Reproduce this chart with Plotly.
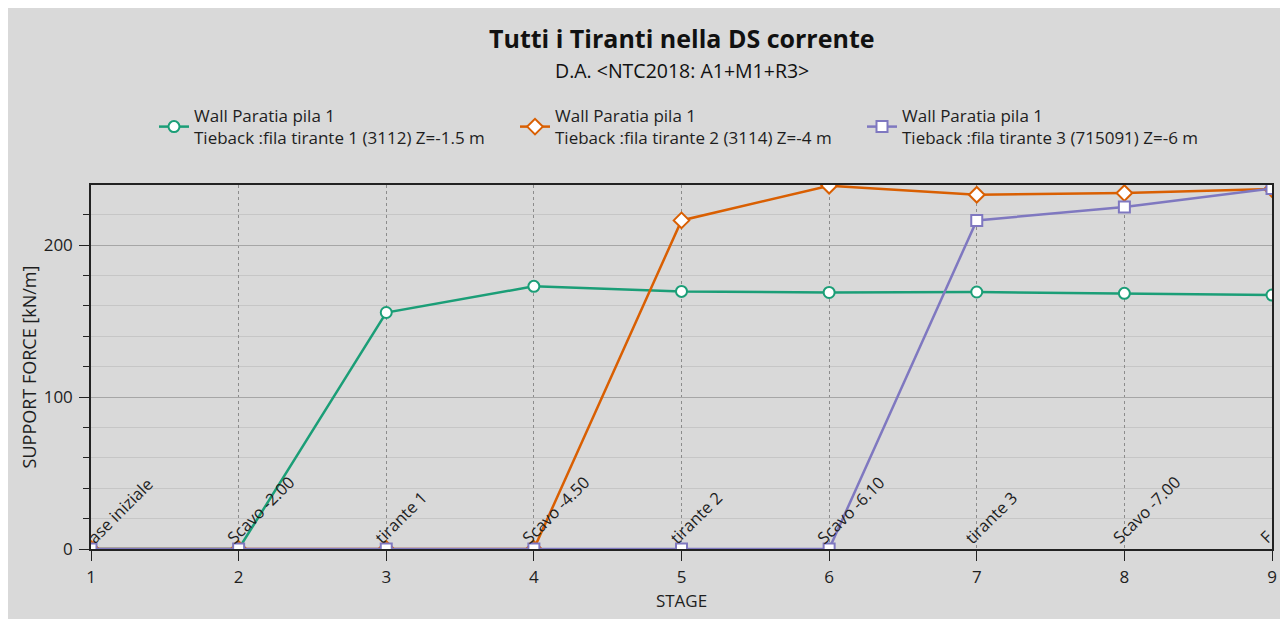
import plotly.graph_objects as go

stages = [1, 2, 3, 4, 5, 6, 7, 8, 9]
stage_labels = ["ase iniziale", "Scavo -2.00", "tirante 1", "Scavo -4.50", "tirante 2",
                "Scavo -6.10", "tirante 3", "Scavo -7.00", "F"]
tirante1 = [0, 0, 155.6, 172.8, 169.5, 168.8, 169.1, 168.2, 167.1]
tirante2 = [0, 0, 0, 0, 216.2, 239.0, 233.1, 234.2, 236.8]
tirante3 = [0, 0, 0, 0, 0, 0, 216.2, 225.0, 237.2]
names = [
    "Wall Paratia pila 1<br>Tieback :fila tirante 1 (3112) Z=-1.5 m",
    "Wall Paratia pila 1<br>Tieback :fila tirante 2 (3114) Z=-4 m",
    "Wall Paratia pila 1<br>Tieback :fila tirante 3 (715091) Z=-6 m",
]
colors = ["#1b9e77", "#d95f02", "#7f78c0"]

FONT = "Open Sans"
BG = "#d9d9d9"
TXT = "#1e1e1e"

# the page body has an 8px margin: figure pixel = page pixel - 8
OFF = 8
W, H = 1288 - OFF, 623 - OFF
L, R, T, B = 91 - OFF, 16, 185 - OFF, 74
pw, ph = W - L - R, H - T - B

def px(xpage):
    return (xpage - OFF - L) / pw

def py(ypage):
    return (H - B - (ypage - OFF)) / ph

fig = go.Figure()
legend_ids = ["legend", "legend2", "legend3"]
for ys, nm, col, sym, sz, lg in zip([tirante1, tirante2, tirante3], names, colors,
                                    ["circle", "diamond", "square"], [11, 12, 11],
                                    legend_ids):
    fig.add_trace(go.Scatter(
        x=stages, y=ys, name=nm, mode="lines+markers", legend=lg,
        line=dict(color=col, width=2.5),
        marker=dict(symbol=sym, size=sz, color="white", line=dict(color=col, width=2)),
    ))

fig.add_shape(type="rect", xref="paper", yref="paper",
              x0=px(OFF), x1=px(1288), y0=py(619), y1=py(OFF),
              fillcolor=BG, line_width=0, layer="below")

for s, lab in zip(stages, stage_labels):
    fig.add_annotation(x=s, y=0, xref="x", yref="y", text=lab, showarrow=False,
                       textangle=-45, xanchor="left", yanchor="bottom",
                       xshift=(-12 if s == 1 else -20), yshift=-2,
                       font=dict(family=FONT, size=16.5, color=TXT))

fig.add_annotation(x=0.5, y=py(38), xref="paper", yref="paper",
                   text="<b>Tutti i Tiranti nella DS corrente</b>", showarrow=False,
                   xanchor="center", yanchor="middle",
                   font=dict(family=FONT, size=25, color="#111111"))
fig.add_annotation(x=0.5, y=py(70), xref="paper", yref="paper",
                   text="D.A. &lt;NTC2018: A1+M1+R3&gt;", showarrow=False,
                   xanchor="center", yanchor="middle",
                   font=dict(family=FONT, size=19.5, color="#111111"))

def legend_at(xpage):
    return dict(orientation="h", x=px(xpage), y=py(98), xanchor="left", yanchor="top",
                bgcolor="rgba(0,0,0,0)", font=dict(family=FONT, size=17, color=TXT),
                itemwidth=30)

fig.update_layout(
    width=W, height=H,
    margin=dict(l=L, r=R, t=T, b=B, pad=0),
    paper_bgcolor="white", plot_bgcolor=BG,
    font=dict(family=FONT, size=17, color=TXT),
    showlegend=True,
    legend=legend_at(154),
    legend2=legend_at(515),
    legend3=legend_at(862),
    xaxis=dict(range=[1, 9], dtick=1, tick0=1, showgrid=True, gridcolor="#8c8c8c",
               griddash="3px,3px", gridwidth=1, showline=True, linecolor="#222222",
               linewidth=1.5, mirror=True, ticks="outside", ticklen=10,
               tickcolor="#222222", zeroline=False, ticklabelstandoff=2,
               title=dict(text="STAGE", font=dict(family=FONT, size=17), standoff=8),
               tickfont=dict(family=FONT, size=17)),
    yaxis=dict(range=[0, 239.5], dtick=100, tick0=0, showgrid=True, gridcolor="#a6a6a6",
               gridwidth=1, showline=True, linecolor="#222222", linewidth=1.5,
               mirror=True, ticks="outside", ticklen=10, tickcolor="#222222",
               zeroline=False, ticklabelstandoff=3,
               minor=dict(dtick=20, showgrid=True, gridcolor="#c6c6c6", gridwidth=1,
                          ticks="outside", ticklen=6, tickcolor="#222222"),
               title=dict(text="SUPPORT FORCE [kN/m]", font=dict(family=FONT, size=18),
                          standoff=2),
               tickfont=dict(family=FONT, size=17)),
)

fig.write_html("out.html")
